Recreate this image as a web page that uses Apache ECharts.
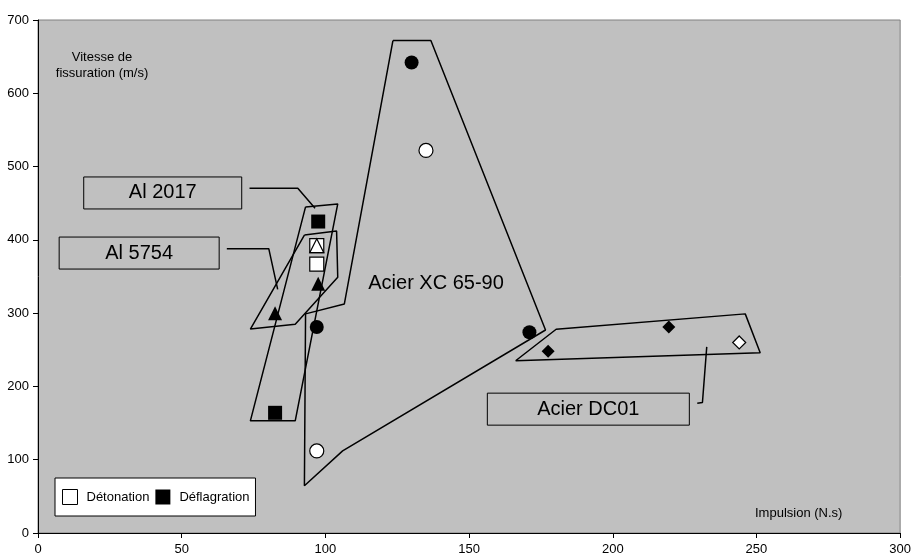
<!DOCTYPE html>
<html>
<head>
<meta charset="utf-8">
<script src="https://cdn.jsdelivr.net/npm/echarts@6/dist/echarts.min.js"></script>
<style>
html,body{margin:0;padding:0;background:#fff;}
#chart{width:914px;height:556px;}
</style>
</head>
<body>
<div id="chart"></div>
<script>
// ---- Data ----
const xTicks = [0, 50, 100, 150, 200, 250, 300];
const yTicks = [0, 100, 200, 300, 400, 500, 600, 700];

const detonationCircles = [[135, 522], [97, 112]];
const detonationSquares = [[97, 392], [97, 367]];
const detonationTriangles = [[97, 392]];
const detonationDiamonds = [[244, 260]];

const deflagrationCircles = [[130, 642], [97, 281], [171, 274]];
const deflagrationSquares = [[97.5, 425], [82.5, 164]];
const deflagrationTriangles = [[97.5, 340], [82.5, 300]];
const deflagrationDiamonds = [[177.5, 248], [219.5, 281]];

const polyXC = [[123.5, 672], [136.7, 672], [176.6, 277], [106, 112], [92.7, 64.5], [93.1, 299], [106.6, 312.5], [123.5, 672]];
const polyAl2017 = [[93.1, 445], [104.3, 449], [89.5, 153], [73.9, 153], [93.1, 445]];
const polyAl5754 = [[92.7, 406.6], [103.9, 412], [104.3, 349], [89.5, 284.8], [73.9, 278.3], [92.7, 406.6]];
const polyDC01 = [[166.2, 235], [180.3, 278], [246.1, 299], [251.3, 246], [166.2, 235]];

const leaderAl2017 = [[73.6, 470.5], [90.4, 470.5], [96.4, 443]];
const leaderAl5754 = [[65.7, 388], [80.3, 388], [83.4, 332.5]];
const leaderDC01 = [[232.7, 254], [231.2, 178], [229.4, 177]];

const labelTexts = ['Al 2017', 'Al 5754', 'Acier DC01', 'Acier XC 65-90'];
const labelPos = [[43.4, 464], [35.2, 382], [191.5, 169], [138.5, 341]];
const labelBoxW = [158, 160, 202, 0];

const legendNames = ['Détonation', 'Déflagration'];
const xName = 'Impulsion (N.s)';
const yName = 'Vitesse de\nfissuration (m/s)';

// ---- Chart ----
const FONT = 'Liberation Sans, Arial, sans-serif';
const chart = echarts.init(document.getElementById('chart'));

function lineSeries(data) {
  return {
    type: 'line', data: data, symbol: 'none', silent: true, z: 2,
    lineStyle: {color: '#000', width: 1.5, opacity: 1}, animation: false
  };
}
function scatter(name, data, symbol, size, filled) {
  return {
    type: 'scatter', name: name, data: data, symbol: symbol, symbolSize: size, z: 5,
    itemStyle: {color: filled ? '#000' : '#fff', borderColor: '#000', borderWidth: filled ? 0 : 1.2, opacity: 1},
    animation: false, silent: true
  };
}

const labelSeries = labelTexts.map(function (t, i) {
  const boxed = labelBoxW[i] > 0;
  const base = {
    show: true, position: 'inside', formatter: t,
    fontFamily: FONT, fontSize: 20, color: '#000', opacity: 1
  };
  if (boxed) {
    Object.assign(base, {
      width: labelBoxW[i], height: 32, lineHeight: 32, align: 'center', verticalAlign: 'middle',
      borderColor: '#000', borderWidth: 1, padding: 0
    });
  }
  return {
    type: 'scatter', data: [labelPos[i]], symbol: 'circle', symbolSize: 1, z: 4, silent: true, animation: false,
    itemStyle: {color: 'rgba(0,0,0,0)', opacity: 1},
    label: base
  };
});

const option = {
  animation: false,
  backgroundColor: '#fff',
  grid: {left: 38, top: 20, width: 864, height: 513, show: true, backgroundColor: '#c0c0c0', borderColor: '#808080', borderWidth: 1},
  xAxis: {
    type: 'value', min: 0, max: 300, interval: 50,
    axisLine: {show: true, lineStyle: {color: '#000', width: 1}},
    axisTick: {show: true, length: 5, lineStyle: {color: '#000'}},
    axisLabel: {fontFamily: FONT, fontSize: 13, color: '#000', margin: 10,
      formatter: function (v) { return xTicks.indexOf(v) >= 0 ? String(v) : ''; }},
    splitLine: {show: false}
  },
  yAxis: {
    type: 'value', min: 0, max: 700, interval: 100,
    axisLine: {show: true, lineStyle: {color: '#000', width: 1}},
    axisTick: {show: true, length: 5, lineStyle: {color: '#000'}},
    axisLabel: {fontFamily: FONT, fontSize: 13, color: '#000', margin: 9,
      formatter: function (v) { return yTicks.indexOf(v) >= 0 ? String(v) : ''; }},
    splitLine: {show: false}
  },
  legend: {
    left: 55, top: 478, orient: 'horizontal',
    backgroundColor: '#fff', borderColor: '#000', borderWidth: 1,
    padding: [11, 6, 11, 7], itemGap: 6, itemWidth: 15, itemHeight: 15,
    textStyle: {fontFamily: FONT, fontSize: 13, color: '#000', padding: [0, 0, 0, 4]},
    data: [
      {name: legendNames[0], icon: 'rect', itemStyle: {color: '#fff', borderColor: '#000', borderWidth: 1, opacity: 1}},
      {name: legendNames[1], icon: 'rect', itemStyle: {color: '#000', borderWidth: 0, opacity: 1}}
    ],
    selectedMode: false
  },
  graphic: [
    {type: 'text', left: 755, top: 507, style: {text: xName, font: '13px ' + FONT, fill: '#000'}, z: 10},
    {type: 'text', x: 102, y: 49, style: {text: yName, font: '13px ' + FONT, fill: '#000', align: 'center', lineHeight: 16}, z: 10}
  ],
  series: [
    lineSeries(polyXC), lineSeries(polyAl2017), lineSeries(polyAl5754), lineSeries(polyDC01),
    lineSeries(leaderAl2017), lineSeries(leaderAl5754), lineSeries(leaderDC01)
  ].concat(labelSeries).concat([
    scatter(legendNames[0], detonationCircles, 'circle', 14, false),
    scatter(legendNames[0], detonationSquares, 'rect', 14, false),
    scatter(legendNames[0], detonationTriangles, 'triangle', 14, false),
    scatter(legendNames[0], detonationDiamonds, 'diamond', 13, false),
    scatter(legendNames[1], deflagrationCircles, 'circle', 14, true),
    scatter(legendNames[1], deflagrationSquares, 'rect', 14, true),
    scatter(legendNames[1], deflagrationTriangles, 'triangle', 14, true),
    scatter(legendNames[1], deflagrationDiamonds, 'diamond', 13, true)
  ])
};
chart.setOption(option);
</script>
</body>
</html>
